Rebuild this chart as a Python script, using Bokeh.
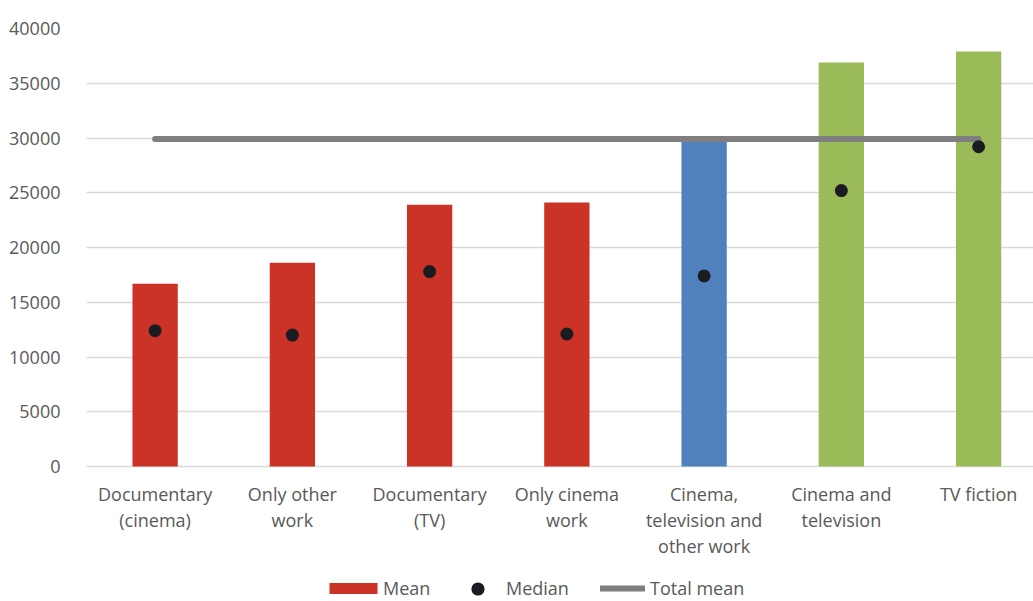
from bokeh.plotting import figure
from bokeh.models import (ColumnDataSource, Range1d, FixedTicker, Legend, LegendItem)
from bokeh.core.properties import value
from bokeh.embed import file_html
from bokeh.resources import INLINE

# Earnings by type of work: mean (bars), median (dots), overall mean (line)
categories = [
    "Documentary\n(cinema)",
    "Only other\nwork",
    "Documentary\n(TV)",
    "Only cinema\nwork",
    "Cinema,\ntelevision and\nother work",
    "Cinema and\ntelevision",
    "TV fiction",
]
mean_values = [16700, 18600, 23900, 24100, 29700, 36900, 37900]
median_values = [12400, 12000, 17800, 12100, 17400, 25200, 29200]
total_mean = 29900
y_ticks = [0, 5000, 10000, 15000, 20000, 25000, 30000, 35000, 40000]
bar_colors = ["#CB3326", "#CB3326", "#CB3326", "#CB3326", "#4F81BD", "#9BBB59", "#9BBB59"]

xs = list(range(len(categories)))
src = ColumnDataSource(dict(x=xs, mean=mean_values, median=median_values, label=categories,
                            color=bar_colors, total=[total_mean] * len(xs),
                            base=[0] * len(xs)))

FONT = "Open Sans"
TXT = "#595959"
FS = "18px"

# The frame runs to the bottom of the canvas so the category labels and the
# legend can live underneath the zero line; 0..40000 spans 438 px.
TOP, ZERO_PX, H = 28, 466, 601
units_per_px = 40000 / (ZERO_PX - TOP)
y_min = -(H - ZERO_PX) * units_per_px

p = figure(width=1033, height=H, output_backend="svg", toolbar_location=None,
           x_range=Range1d(-0.5, 6.4), y_range=Range1d(y_min, 40000),
           min_border_left=86, min_border_right=0, min_border_top=TOP,
           min_border_bottom=0)
p.outline_line_color = None
p.background_fill_color = "white"
p.border_fill_color = "white"

bars = p.vbar(x="x", top="mean", width=0.33, fill_color="color", line_color=None, source=src)
line = p.line(x="x", y="total", line_width=6, line_color="#7F7F7F", line_cap="round", source=src)
dots = p.scatter(x="x", y="median", size=13, fill_color="#1B1B22", line_color=None, source=src)

# category labels under the zero line
p.text(x="x", y="base", text="label", source=src, text_align="center",
       text_baseline="top", y_offset=15, text_font=value(FONT), text_font_size=FS,
       text_color=TXT, text_line_height=1.1)

# axes
p.xaxis.visible = False
p.yaxis.ticker = FixedTicker(ticks=y_ticks)
p.yaxis.axis_line_color = None
p.yaxis.major_tick_line_color = None
p.yaxis.minor_tick_line_color = None
p.yaxis.major_label_text_font = FONT
p.yaxis.major_label_text_font_size = FS
p.yaxis.major_label_text_color = TXT
p.yaxis.major_label_standoff = 20

p.xgrid.grid_line_color = None
p.ygrid.ticker = FixedTicker(ticks=y_ticks)
p.ygrid.grid_line_color = "#D9D9D9"
p.ygrid.grid_line_width = 1.5


def add_key(label, renderer, loc, gw, gh, standoff, index=None):
    item = LegendItem(label=label, renderers=[renderer]) if index is None else \
        LegendItem(label=label, renderers=[renderer], index=index)
    lg = Legend(items=[item], orientation="horizontal", location=loc)
    lg.label_text_font = FONT
    lg.label_text_font_size = FS
    lg.label_text_color = TXT
    lg.label_height = 24
    lg.glyph_width = gw
    lg.glyph_height = gh
    lg.label_standoff = standoff
    lg.border_line_color = None
    lg.background_fill_alpha = 0
    lg.margin = 0
    lg.padding = 0
    p.add_layout(lg)


# one key per series so each swatch gets its own size
add_key("Mean", bars, (237, 1), 60, 14, 0, index=0)
add_key("Median", dots, (375, -3.5), 33, 33, 12, index=0)
add_key("Total mean", line, (514, 1), 45, 14, 5)

open("out.html", "w").write(file_html(p, INLINE))
